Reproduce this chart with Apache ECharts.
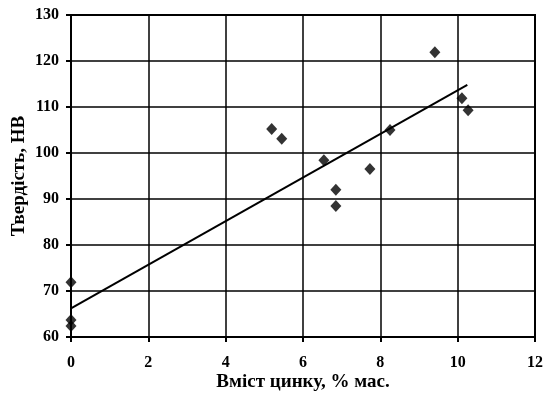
<!DOCTYPE html>
<html><head><meta charset="utf-8">
<script src="https://cdn.jsdelivr.net/npm/echarts@6/dist/echarts.min.js"></script>
<style>html,body{margin:0;padding:0;background:#fff}#c{width:557px;height:398px}</style>
</head><body><div id="c"></div>
<script>
const zincX = [0, 0, 0, 5.19, 5.45, 6.54, 6.85, 6.85, 7.73, 8.25, 9.41, 10.11, 10.27];
const hardnessY = [71.9, 63.7, 62.4, 105.2, 103.1, 98.4, 92.0, 88.5, 96.5, 105.0, 121.9, 111.9, 109.3];
const trendX = [0, 10.25];
const trendY = [66.2, 114.8];
const xTicks = [0, 2, 4, 6, 8, 10, 12];
const yTicks = [60, 70, 80, 90, 100, 110, 120, 130];

const font = '"Liberation Serif", "DejaVu Serif", serif';
const chart = echarts.init(document.getElementById('c'), null, {renderer: 'canvas'});
chart.setOption({
  animation: false,
  backgroundColor: '#fff',
  grid: {left: 71, right: 22, top: 15, bottom: 61, show: true, borderColor: '#000', borderWidth: 2,
         containLabel: false, outerBoundsMode: 'none'},
  xAxis: {
    type: 'value', min: xTicks[0], max: xTicks[xTicks.length - 1], interval: 2,
    name: 'Вміст цинку, % мас.', nameLocation: 'middle', nameGap: 36, nameMoveOverlap: false,
    nameTextStyle: {fontFamily: font, fontWeight: 'bold', fontSize: 19, color: '#000'},
    axisLine: {show: true, lineStyle: {color: '#000', width: 2}},
    axisTick: {show: true, inside: false, length: 5, lineStyle: {color: '#000', width: 2}},
    axisLabel: {fontFamily: font, fontWeight: 'bold', fontSize: 16, color: '#000', margin: 18},
    splitLine: {show: true, lineStyle: {color: '#000', width: 1.5}}
  },
  yAxis: {
    type: 'value', min: yTicks[0], max: yTicks[yTicks.length - 1], interval: 10,
    name: 'Твердість, НВ', nameLocation: 'middle', nameGap: 42, nameMoveOverlap: false,
    nameTextStyle: {fontFamily: font, fontWeight: 'bold', fontSize: 19, color: '#000'},
    axisLine: {show: true, lineStyle: {color: '#000', width: 2}},
    axisTick: {show: true, inside: false, length: 5, lineStyle: {color: '#000', width: 2}},
    axisLabel: {fontFamily: font, fontWeight: 'bold', fontSize: 16, color: '#000', margin: 12},
    splitLine: {show: true, lineStyle: {color: '#000', width: 1.5}}
  },
  series: [
    {
      type: 'line', data: trendX.map((x, i) => [x, trendY[i]]),
      symbol: 'none', lineStyle: {color: '#000', width: 2}, z: 3
    },
    {
      type: 'scatter', data: zincX.map((x, i) => [x, hardnessY[i]]),
      symbol: 'diamond', symbolSize: [11, 12], itemStyle: {color: '#000'}, z: 4
    }
  ]
});
</script></body></html>
